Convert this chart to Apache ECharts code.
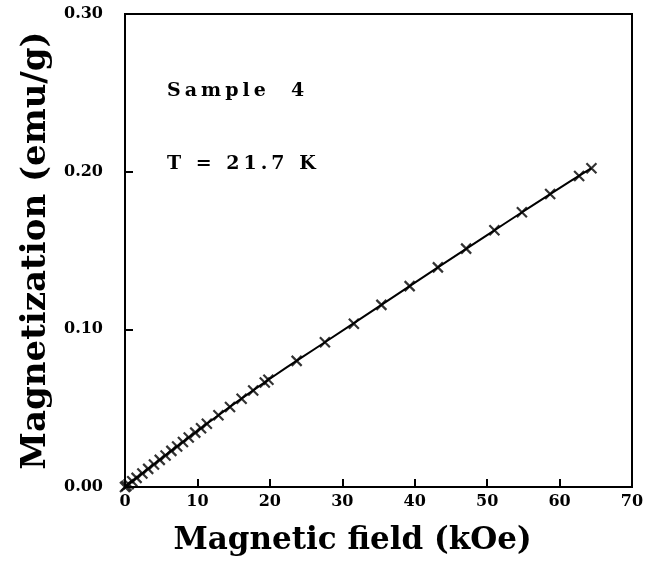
<!DOCTYPE html>
<html>
<head>
<meta charset="utf-8">
<script src="https://cdn.jsdelivr.net/npm/echarts@6/dist/echarts.min.js"></script>
<style>html,body{margin:0;padding:0;background:#fff}#c{width:657px;height:561px}</style>
</head>
<body>
<div id="c"></div>
<script>
const fieldKOe = [0.0, 0.2, 0.5, 1.0, 1.6, 2.4, 3.2, 4.0, 4.8, 5.6, 6.4, 7.2, 8.0, 8.8, 9.7, 10.5, 11.3,
  12.9, 14.5, 16.1, 17.7, 19.3, 19.8, 23.7, 27.6, 31.6, 35.4, 39.3, 43.2, 47.1, 51.0, 54.8, 58.7, 62.7, 64.4];
const magnetization = [0.0000, 0.0007, 0.0018, 0.0036, 0.0058, 0.0086, 0.0115, 0.0143, 0.0172, 0.0200, 0.0229, 0.0257, 0.0285, 0.0314, 0.0345, 0.0373, 0.0401,
  0.0455, 0.0508, 0.0560, 0.0612, 0.0663, 0.0680, 0.0800, 0.0918, 0.1036, 0.1155, 0.1274, 0.1393, 0.1512, 0.1628, 0.1743, 0.1858, 0.1973, 0.2022];
const fitField = [0, 11.3, 19.8, 27.6, 35.4, 43.2, 51.0, 58.7, 64.4];
const fitMag = [0, 0.0401, 0.0680, 0.0918, 0.1155, 0.1393, 0.1628, 0.1858, 0.2022];
const xTitle = 'Magnetic field (kOe)';
const yTitle = 'Magnetization (emu/g)';
const notes = ['Sample  4', 'T = 21.7 K'];

const FONT = '"DejaVu Serif", serif';

// the annotations in the original are set with wide letter spacing
const spaced = new Set(notes);
const origFill = CanvasRenderingContext2D.prototype.fillText;
CanvasRenderingContext2D.prototype.fillText = function (t, x, y, w) {
  if ('letterSpacing' in this) this.letterSpacing = spaced.has(t) ? '4px' : '0px';
  return w === undefined ? origFill.call(this, t, x, y) : origFill.call(this, t, x, y, w);
};

const pts = fieldKOe.map((x, i) => [x, magnetization[i]]);
const fit = fitField.map((x, i) => [x, fitMag[i]]);

const chart = echarts.init(document.getElementById('c'));
chart.setOption({
  animation: false,
  backgroundColor: '#fff',
  grid: { left: 125, right: 25, top: 14, bottom: 70, show: true, borderColor: '#000', borderWidth: 2, backgroundColor: 'transparent' },
  xAxis: {
    type: 'value', min: 0, max: 70, interval: 10,
    name: xTitle, nameLocation: 'middle', nameGap: 38,
    nameTextStyle: { fontFamily: FONT, fontWeight: 'bold', fontSize: 31, color: '#000', padding: [0, 52, 0, 0] },
    axisLine: { lineStyle: { color: '#000', width: 2 } },
    axisTick: { inside: true, length: 8, lineStyle: { color: '#000', width: 2 } },
    axisLabel: { fontFamily: FONT, fontWeight: 'bold', fontSize: 16, color: '#000', margin: 7 },
    splitLine: { show: false }
  },
  yAxis: {
    type: 'value', min: 0, max: 0.3, interval: 0.1,
    name: yTitle, nameLocation: 'middle', nameGap: 62, nameRotate: 90,
    nameTextStyle: { fontFamily: FONT, fontWeight: 'bold', fontSize: 34, color: '#000' },
    axisLine: { lineStyle: { color: '#000', width: 2 } },
    axisTick: { inside: true, length: 8, lineStyle: { color: '#000', width: 2 } },
    axisLabel: { fontFamily: FONT, fontWeight: 'bold', fontSize: 16, color: '#000', margin: 22,
      formatter: v => v.toFixed(2) },
    splitLine: { show: false }
  },
  graphic: [
    { type: 'text', x: 167, y: 91, style: { text: notes[0], fontFamily: FONT, fontWeight: 'bold', fontSize: 19, fill: '#000', verticalAlign: 'middle' } },
    { type: 'text', x: 167, y: 164, style: { text: notes[1], fontFamily: FONT, fontWeight: 'bold', fontSize: 19, fill: '#000', verticalAlign: 'middle' } }
  ],
  series: [
    { type: 'line', data: fit, smooth: true, showSymbol: false, lineStyle: { color: '#000', width: 2 }, z: 2 },
    { type: 'scatter', data: pts, symbol: 'path://M0,0L10,10M10,0L0,10', symbolSize: 10,
      itemStyle: { color: 'rgba(0,0,0,0)', borderColor: '#000', borderWidth: 2.2 }, z: 3 }
  ]
});
</script>
</body>
</html>
